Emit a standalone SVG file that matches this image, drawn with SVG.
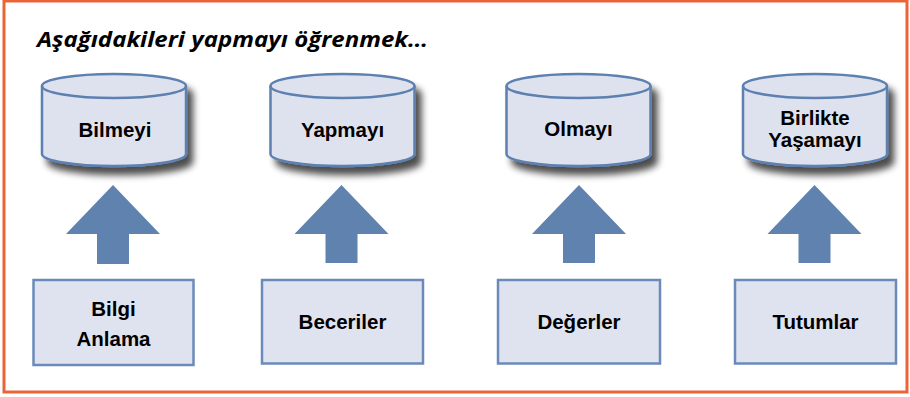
<svg xmlns="http://www.w3.org/2000/svg" width="910" height="397" viewBox="0 0 910 397">
<defs>
<filter id="sh" x="-20%" y="-20%" width="150%" height="170%">
<feGaussianBlur in="SourceAlpha" stdDeviation="3.5"/>
<feOffset dx="6" dy="8" result="b"/>
<feComponentTransfer><feFuncA type="linear" slope="0.7"/></feComponentTransfer>
<feMerge><feMergeNode/><feMergeNode in="SourceGraphic"/></feMerge>
</filter>
<style>
.frame{fill:#fff;stroke:#EA6439;stroke-width:3}
.cyl{fill:#DEE2EF;stroke:#5D80B1;stroke-width:2.5}
.rim{fill:none;stroke:#5D80B1;stroke-width:2.5}
.box{fill:#DFE3F0;stroke:#6A8BBA;stroke-width:2.5}
.arr{fill:#5F82AE}
.t{font-family:"Liberation Sans",Arial,sans-serif;font-weight:bold;font-size:20.5px;fill:#000;text-anchor:middle}
.title{font-family:"Open Sans","Liberation Sans",sans-serif;font-style:italic;font-weight:700;font-size:21.5px;fill:#000}
</style>
</defs>
<rect class="frame" x="4" y="1" width="903" height="391"/>
<text class="title" x="37" y="47" textLength="391" lengthAdjust="spacingAndGlyphs">Aşağıdakileri yapmayı öğrenmek…</text>

<g id="cyl-bilmeyi">
<path class="cyl" filter="url(#sh)" d="M42,86 V154 A72,12 0 0 0 186,154 V86 A72,12 0 0 0 42,86 Z"/>
<path class="rim" d="M42,86 A72,12 0 0 0 186,86"/>
<text class="t" x="115" y="136.5">Bilmeyi</text>
</g>
<g id="cyl-yapmayi">
<path class="cyl" filter="url(#sh)" d="M270.5,86 V154 A72,12 0 0 0 414.5,154 V86 A72,12 0 0 0 270.5,86 Z"/>
<path class="rim" d="M270.5,86 A72,12 0 0 0 414.5,86"/>
<text class="t" x="342.5" y="137">Yapmayı</text>
</g>
<g id="cyl-olmayi">
<path class="cyl" filter="url(#sh)" d="M506.5,86 V154 A72,12 0 0 0 650.5,154 V86 A72,12 0 0 0 506.5,86 Z"/>
<path class="rim" d="M506.5,86 A72,12 0 0 0 650.5,86"/>
<text class="t" x="578.5" y="135.5">Olmayı</text>
</g>
<g id="cyl-birlikte">
<path class="cyl" filter="url(#sh)" d="M743,86 V154 A72,12 0 0 0 887,154 V86 A72,12 0 0 0 743,86 Z"/>
<path class="rim" d="M743,86 A72,12 0 0 0 887,86"/>
<text class="t" x="815" y="125">Birlikte</text>
<text class="t" x="815" y="147">Yaşamayı</text>
</g>

<g id="connectors">
<polygon class="arr" points="113,185 160,234 129,234 129,264 97,264 97,234 66,234"/>
<polygon class="arr" points="341.5,185 388.5,234 357.5,234 357.5,263 325.5,263 325.5,234 294.5,234"/>
<polygon class="arr" points="579,185 626,234 595,234 595,263 563,263 563,234 532,234"/>
<polygon class="arr" points="814.5,185 861.5,234 830.5,234 830.5,263 798.5,263 798.5,234 767.5,234"/>
</g>

<g id="box-bilgi">
<rect class="box" x="33.5" y="280" width="160" height="85"/>
<text class="t" x="113.5" y="315.5">Bilgi</text>
<text class="t" x="113.5" y="346">Anlama</text>
</g>
<g id="box-beceriler">
<rect class="box" x="262" y="280" width="161" height="83.5"/>
<text class="t" x="342.5" y="329">Beceriler</text>
</g>
<g id="box-degerler">
<rect class="box" x="498" y="280" width="162" height="83.5"/>
<text class="t" x="579" y="329">Değerler</text>
</g>
<g id="box-tutumlar">
<rect class="box" x="735" y="280" width="161" height="83.5"/>
<text class="t" x="815.5" y="329">Tutumlar</text>
</g>
</svg>
